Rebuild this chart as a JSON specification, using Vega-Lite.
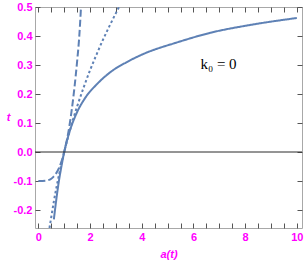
{
  "$schema": "https://vega.github.io/schema/vega-lite/v6.json",
  "width": 267,
  "height": 221,
  "autosize": {"type": "none"},
  "padding": {"left": 35, "top": 7, "right": 3, "bottom": 45},
  "background": "white",
  "config": {
    "view": {"stroke": "#a8a8a8", "strokeWidth": 1},
    "axis": {"grid": false, "domain": false}
  },
  "datasets": {
    "curves": [
      {"a": 0.6, "t": -0.232, "s": "solid"},
      {"a": 0.7, "t": -0.16, "s": "solid"},
      {"a": 0.8, "t": -0.097, "s": "solid"},
      {"a": 0.9, "t": -0.046, "s": "solid"},
      {"a": 1.0, "t": 0.0, "s": "solid"},
      {"a": 1.2, "t": 0.068, "s": "solid"},
      {"a": 1.46, "t": 0.13, "s": "solid"},
      {"a": 1.8, "t": 0.185, "s": "solid"},
      {"a": 2.3, "t": 0.237, "s": "solid"},
      {"a": 2.81, "t": 0.277, "s": "solid"},
      {"a": 3.4, "t": 0.309, "s": "solid"},
      {"a": 4.09, "t": 0.339, "s": "solid"},
      {"a": 5.37, "t": 0.378, "s": "solid"},
      {"a": 6.65, "t": 0.411, "s": "solid"},
      {"a": 8.19, "t": 0.438, "s": "solid"},
      {"a": 10.0, "t": 0.462, "s": "solid"},
      {"a": 0.0, "t": -0.1, "s": "dashed"},
      {"a": 0.3, "t": -0.0985, "s": "dashed"},
      {"a": 0.5, "t": -0.092, "s": "dashed"},
      {"a": 0.6, "t": -0.084, "s": "dashed"},
      {"a": 0.7, "t": -0.072, "s": "dashed"},
      {"a": 0.8, "t": -0.055, "s": "dashed"},
      {"a": 0.9, "t": -0.031, "s": "dashed"},
      {"a": 1.0, "t": 0.0, "s": "dashed"},
      {"a": 1.1, "t": 0.04, "s": "dashed"},
      {"a": 1.2, "t": 0.089, "s": "dashed"},
      {"a": 1.3, "t": 0.151, "s": "dashed"},
      {"a": 1.4, "t": 0.225, "s": "dashed"},
      {"a": 1.5, "t": 0.313, "s": "dashed"},
      {"a": 1.58, "t": 0.395, "s": "dashed"},
      {"a": 1.65, "t": 0.5, "s": "dashed"},
      {"a": 0.43, "t": -0.262, "s": "dotted"},
      {"a": 0.5, "t": -0.224, "s": "dotted"},
      {"a": 0.6, "t": -0.17, "s": "dotted"},
      {"a": 0.7, "t": -0.122, "s": "dotted"},
      {"a": 0.8, "t": -0.078, "s": "dotted"},
      {"a": 0.9, "t": -0.0375, "s": "dotted"},
      {"a": 1.0, "t": 0.0, "s": "dotted"},
      {"a": 1.25, "t": 0.084, "s": "dotted"},
      {"a": 1.5, "t": 0.157, "s": "dotted"},
      {"a": 1.75, "t": 0.222, "s": "dotted"},
      {"a": 2.0, "t": 0.282, "s": "dotted"},
      {"a": 2.25, "t": 0.336, "s": "dotted"},
      {"a": 2.5, "t": 0.387, "s": "dotted"},
      {"a": 2.75, "t": 0.434, "s": "dotted"},
      {"a": 3.0, "t": 0.479, "s": "dotted"},
      {"a": 3.12, "t": 0.5, "s": "dotted"}
    ],
    "label": [{"a": 6.27, "t": 0.286, "txt": "k₀ = 0"}],
    "zero": [{"t": 0}]
  },
  "resolve": {"axis": {"x": "independent", "y": "independent"}},
  "layer": [
    {
      "data": {"name": "curves"},
      "mark": {"type": "line", "color": "#5E81B5", "strokeWidth": 2, "clip": true, "interpolate": "monotone"},
      "encoding": {
        "x": {
          "field": "a", "type": "quantitative",
          "scale": {"domain": [-0.13, 10.2], "nice": false, "zero": false},
          "axis": {
            "orient": "bottom",
            "offset": -5,
            "values": [0, 0.5, 1, 1.5, 2, 2.5, 3, 3.5, 4, 4.5, 5, 5.5, 6, 6.5, 7, 7.5, 8, 8.5, 9, 9.5, 10],
            "labelExpr": "datum.value % 2 === 0 ? format(datum.value, 'd') : ''",
            "tickColor": "#555555",
            "tickSize": 5,
            "labelColor": "#ff00ff",
            "labelFont": "Liberation Sans",
            "labelFontWeight": "bold",
            "labelFontSize": 11,
            "labelPadding": 3,
            "labelOverlap": false,
            "labelFlush": false,
            "title": "a(t)",
            "titleColor": "#ff00ff",
            "titleFont": "Liberation Sans",
            "titleFontStyle": "italic",
            "titleFontWeight": "bold",
            "titleFontSize": 11,
            "titlePadding": 6
          }
        },
        "y": {
          "field": "t", "type": "quantitative",
          "scale": {"domain": [-0.262, 0.5], "nice": false, "zero": false},
          "axis": {
            "orient": "left",
            "offset": -5,
            "values": [-0.2, -0.1, 0, 0.1, 0.2, 0.3, 0.4, 0.5],
            "labelExpr": "replace(format(datum.value, '.1f'), '−', '-')",
            "tickColor": "#555555",
            "tickSize": 5,
            "labelColor": "#ff00ff",
            "labelFont": "Liberation Sans",
            "labelFontWeight": "bold",
            "labelFontSize": 11,
            "labelPadding": 3,
            "labelOverlap": false,
            "labelFlush": false,
            "title": "t",
            "titleAngle": 0,
            "titleAlign": "center",
            "titleBaseline": "middle",
            "titleColor": "#ff00ff",
            "titleFont": "Liberation Sans",
            "titleFontStyle": "italic",
            "titleFontWeight": "bold",
            "titleFontSize": 11,
            "titlePadding": 5
          }
        },
        "strokeDash": {
          "field": "s", "type": "nominal",
          "scale": {"domain": ["solid", "dashed", "dotted"], "range": [[1, 0], [7, 3], [2.5, 2.5]]},
          "legend": null
        }
      }
    },
    {
      "data": {"name": "zero"},
      "mark": {"type": "rule", "color": "#2a2a2a", "strokeWidth": 1},
      "encoding": {"y": {"field": "t", "type": "quantitative", "axis": null}}
    },
    {
      "data": {"name": "label"},
      "mark": {"type": "text", "align": "left", "baseline": "alphabetic", "font": "Liberation Serif", "fontSize": 15, "color": "black"},
      "encoding": {
        "x": {
          "field": "a", "type": "quantitative",
          "axis": {
            "orient": "top",
            "offset": -5,
            "values": [0, 0.5, 1, 1.5, 2, 2.5, 3, 3.5, 4, 4.5, 5, 5.5, 6, 6.5, 7, 7.5, 8, 8.5, 9, 9.5, 10],
            "labels": false,
            "tickColor": "#555555",
            "tickSize": 5,
            "title": null
          }
        },
        "y": {
          "field": "t", "type": "quantitative",
          "axis": {
            "orient": "right",
            "offset": -5,
            "values": [-0.2, -0.1, 0, 0.1, 0.2, 0.3, 0.4, 0.5],
            "labels": false,
            "tickColor": "#555555",
            "tickSize": 5,
            "title": null
          }
        },
        "text": {"field": "txt"}
      }
    }
  ]
}
